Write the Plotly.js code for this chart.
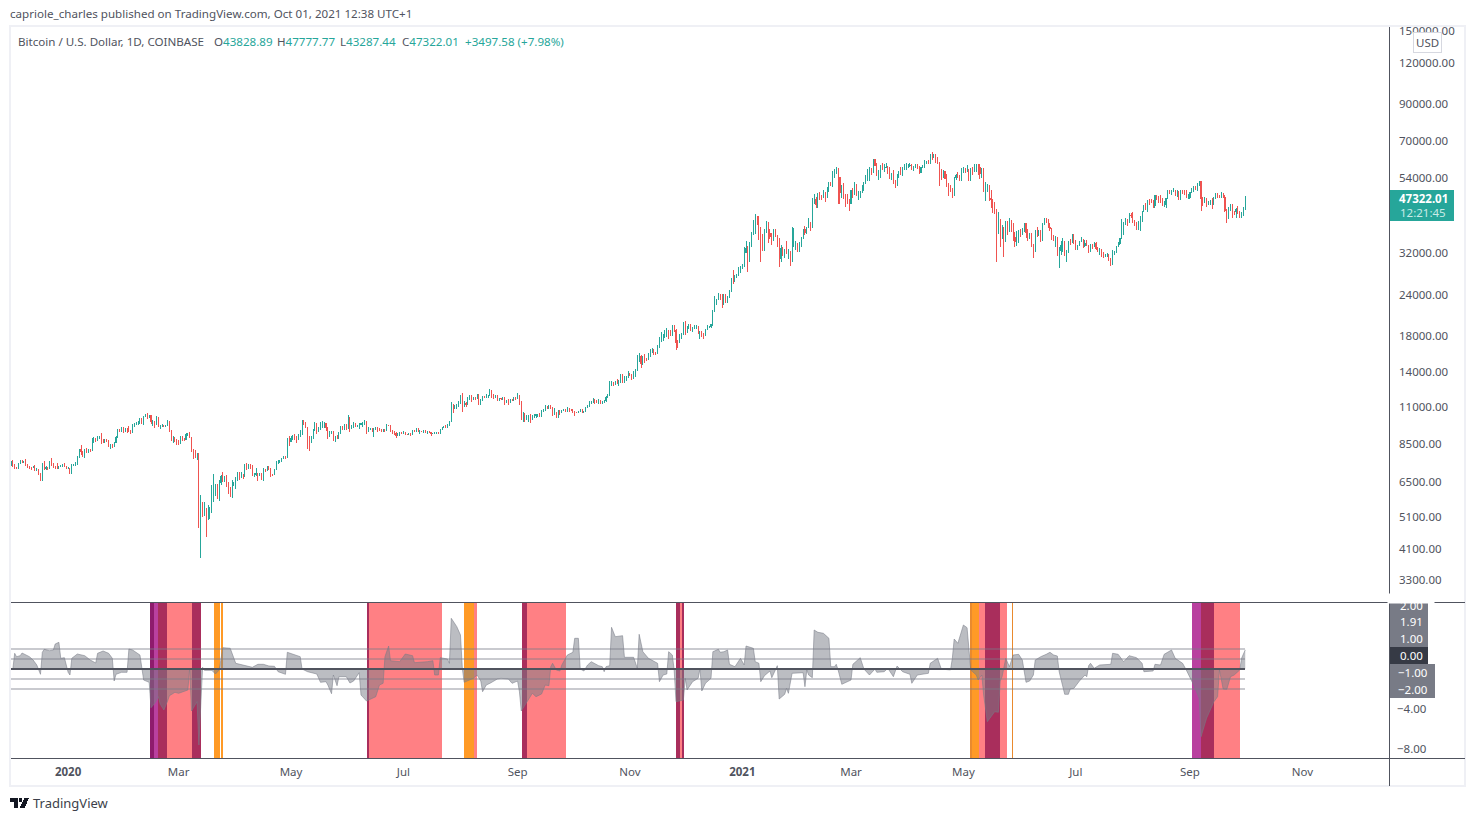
<!DOCTYPE html>
<html>
<head>
<meta charset="utf-8">
<script src="https://cdn.plot.ly/plotly-3.0.1.min.js"></script>
<style>
html,body{margin:0;padding:0;background:#fff}
.boxlayer path,.shapelayer path{shape-rendering:crispEdges}
</style>
</head>
<body>
<div id="plot" style="width:1475px;height:821px"></div>
<script>
// daily candles, one line per calendar month, Dec 2019 .. Oct 1 2021
const opens = [
7400,7540,7300,7200,7190,7400,7530,7500,7520,7340,7220,7200,7190,7250,7080,7120,6880,6610,7280,7150,7190,7140,7510,7320,7250,7200,7190,7250,7300,7380,7240,
7170,7175,6950,7340,7350,7350,7760,8150,8040,7815,8190,8020,8180,8110,8810,8810,8720,8900,8900,8700,8630,8720,8680,8380,8430,8340,8600,8890,9390,9290,9510,
9350,9390,9330,9290,9180,9620,9750,9800,9900,10160,9860,10270,10360,10240,10360,9900,9930,9710,10170,9600,9610,9690,9620,9670,9960,9310,8780,8810,8720,
8530,8520,8910,8760,8760,9070,9160,8900,8040,7930,7890,7940,4970,5570,5170,5360,5030,5320,5400,6190,6190,6190,5830,6490,6770,6700,6740,6370,6250,5900,6390,
6420,6650,6800,6740,6870,6780,7340,7200,7370,7300,6860,6880,6900,6850,6860,6640,7120,7040,7260,7120,6880,6880,7130,7490,7510,7540,7690,7790,7750,8780,
8630,8830,8980,8900,8880,9030,9150,9990,9810,9540,8730,8570,8820,9320,9800,9320,9380,9670,9720,9790,9510,9060,9170,9180,8730,8900,8840,9200,9570,9430,9700,
9450,10200,9530,9670,9790,9620,9670,9750,9780,9780,9900,9280,9470,9480,9340,9430,9530,9450,9410,9290,9360,9300,9690,9630,9290,9250,9160,9010,9120,9190,
9140,9230,9090,9060,9130,9080,9340,9260,9440,9240,9290,9240,9310,9240,9250,9190,9130,9160,9170,9210,9160,9390,9530,9610,9550,9700,9930,11050,10920,11100,11100,
11350,11800,11070,11230,11190,11750,11770,11600,11760,11680,11880,11400,11580,11790,11770,11860,11910,12300,11960,11760,11860,11520,11680,11650,11750,11330,11460,11320,11540,11470,11710,
11650,11930,11400,10180,10470,10170,10260,10370,10130,10230,10340,10390,10440,10320,10680,10790,10950,10940,11080,10920,10420,10530,10240,10730,10690,10730,10780,10690,10840,10780,
10780,10620,10570,10540,10670,10790,10600,10670,10920,11050,11300,11370,11540,11430,11430,11500,11320,11360,11500,11750,11920,12820,12970,12930,13120,13030,13070,13640,13280,13460,13560,
13800,13750,13560,14030,14150,15590,15590,14830,15480,15330,15310,15700,16290,16340,16070,15970,16720,17680,17800,17820,18680,18720,18420,18370,19160,18730,17150,17140,17730,18200,
19700,18800,19230,19450,18650,19150,19150,19170,18330,18550,18260,18050,18800,19170,19280,19440,21350,22800,23130,23860,23480,22730,23820,23250,23720,24670,26480,26280,27040,27370,28880,
29000,29410,32190,33000,31990,33970,36950,39440,40620,40200,38180,35430,33820,37350,39150,36770,36020,35800,36630,35880,35470,30830,33010,32090,32280,32270,32470,30400,33410,34280,34290,
33110,33520,35510,37670,36960,38290,39260,38840,46400,46470,44850,48000,47420,47300,48620,48020,49140,52120,51580,55930,55950,57490,54090,48890,49710,47050,46300,46180,
45240,49630,48370,50550,48370,48760,48880,50970,52380,54880,55860,57800,57230,61190,59000,55630,56900,58920,57640,58080,58100,57350,54100,54340,52300,51300,55050,55860,55780,57620,58760,
58800,58800,58950,57060,58200,59130,58020,56000,58100,58100,59770,59980,59860,63580,62980,63200,61400,60060,56210,55730,56480,53790,51700,51190,50090,49070,54020,55030,54880,53570,
57700,57800,56580,57160,53200,57480,56400,57340,58800,58250,55860,56700,49500,49680,49900,46750,46430,43560,42900,36700,40500,37300,37480,34700,38790,38300,39290,38530,35680,34600,35660,
37300,36690,37580,39240,36850,35520,35800,33580,33380,37390,36690,37340,35550,39020,40530,40150,38350,38090,35820,35480,35600,31680,32500,33680,34660,31590,32280,34700,34500,35900,
35040,33540,33820,34650,35290,33700,34230,33870,32870,33820,33510,34260,33100,32730,32820,31880,31400,31530,31780,30830,29790,32140,32290,33600,34290,35400,37280,39470,40020,40010,41490,
41460,39880,39150,38200,39720,40880,42830,44610,43820,46280,45600,45550,44430,47830,47110,47040,45980,44690,44800,46760,49340,48870,49280,49550,47700,48990,46850,49070,48900,48810,46980,
47160,48840,49280,49970,49920,51790,52660,46860,46090,46390,44850,45150,46060,44960,47110,48120,47770,47300,48300,47250,42970,40700,43570,44890,42840,42700,43210,42170,41030,41520,
43828.89
];
const highs = [
7550,7600,7410,7260,7420,7580,7600,7560,7630,7400,7300,7250,7300,7320,7180,7160,6940,7440,7520,7270,7230,7530,7690,7430,7280,7420,7270,7320,7400,7430,7310,
7250,7190,7400,7400,7490,7800,8200,8450,8100,8200,8280,8190,8200,8880,8900,8880,8980,9000,9190,8770,8780,8800,8710,8500,8480,8620,8990,9400,9420,9550,9540,
9470,9460,9600,9350,9760,9860,9880,9950,10170,10190,10310,10480,10500,10390,10380,10050,9990,10300,10250,9700,9770,9700,9700,10030,9970,9370,8980,8900,8800,
8750,8960,9000,8840,9170,9180,9200,8910,8190,8170,7990,7970,5960,5670,5660,5440,5570,5480,6390,6880,6450,6450,6600,6860,6980,6800,6860,6520,6290,6620,6520,
6740,7000,7000,6980,6900,7370,7420,7390,7390,7330,6950,7170,6900,6940,6920,7200,7150,7300,7280,7200,6900,7150,7520,7590,7580,7700,7800,7800,8870,8950,
9000,9010,9130,8950,9100,9380,10000,10040,9910,9570,9000,8980,9400,9930,9840,9590,9880,9950,9900,9800,9580,9270,9300,9300,8960,9020,9220,9600,9600,9740,9700,
10400,10230,9690,9880,9860,9720,9800,9800,9880,10000,9980,9550,9500,9500,9500,9590,9560,9480,9380,9400,9420,9770,9690,9670,9340,9300,9220,9190,9230,9200,
9290,9260,9120,9190,9150,9360,9360,9470,9450,9340,9310,9340,9350,9280,9270,9200,9180,9220,9240,9220,9410,9560,9650,9680,9720,9990,11400,11200,11150,11180,11450,
11900,12080,11470,11410,11790,11900,11920,11810,11810,12060,12000,11650,11800,11880,11990,11930,12480,12400,12020,11900,11900,11720,11700,11780,11750,11540,11590,11590,11570,11720,11730,
12070,11950,11450,10620,10570,10360,10400,10440,10360,10480,10400,10480,10570,10770,10810,11100,11040,11170,11100,10950,10930,10580,10790,10780,10790,10790,10800,10950,10860,10860,
10690,10670,10600,10700,10800,10780,10700,11000,11100,11490,11420,11730,11550,11550,11620,11540,11440,11550,11820,12000,13200,13170,13040,13170,13330,13250,13780,13860,13620,13620,14100,
13880,13830,14080,14260,15750,15980,15800,15650,15830,15480,15980,16480,16570,16490,16150,16880,17860,18480,18190,18800,18970,18780,18770,19400,19480,18900,17450,18200,18350,19880,
19920,19310,19580,19500,19180,19430,19420,19300,18630,18560,18290,18950,19410,19350,19570,21560,23800,23280,24300,24100,24100,24050,24100,23800,24790,26870,28400,27500,27770,29000,29300,
29600,33300,34780,33600,34500,37000,40300,41950,41300,41300,38200,36600,37800,40100,39700,37900,36800,37800,37800,36400,35600,33800,33450,33050,34800,32950,32500,38500,38000,34800,34300,
34700,35900,37900,38700,38500,40900,39800,46800,48200,47300,48600,48800,48000,49700,49000,50600,52600,52500,56500,57500,58400,57500,54200,51400,52000,48200,48400,46700,
49800,50200,52600,51800,49400,49200,51400,52400,54900,57400,58100,58000,61700,61200,60000,56900,59000,60000,59400,59800,58600,58400,55800,57200,53200,55400,56500,58300,58400,59500,59800,
59500,60100,59600,58500,59500,59500,58700,58400,58900,61300,60800,61300,63800,64850,63800,63600,62500,60400,57600,57000,56800,55500,52200,51200,50500,54400,55500,56400,55200,58000,
58400,58000,58900,57200,58000,58400,59500,59500,59300,59500,57900,58000,52400,51800,51500,49800,46600,45800,43600,42500,38900,38800,38500,40000,39900,40800,40400,39500,37100,37300,37700,
37900,38200,39500,39300,37900,36800,36800,34000,37500,38400,37700,37400,39400,41000,40900,40500,39500,38200,36400,36000,35700,33300,34900,35500,34800,32700,34700,35300,36600,36500,
35000,33900,34900,35900,35300,35000,35000,33900,34100,34000,34600,34600,33300,33100,32900,32200,31900,32000,31700,31000,32800,32600,33700,34500,35400,40500,39500,40900,40600,42300,42400,
42600,40400,39800,39900,41300,43000,44700,45300,46400,46700,46700,46200,47900,48100,47700,47900,47100,46000,47000,49400,49700,49500,50500,49600,49800,49400,49600,49700,49600,49600,48200,
49000,50400,51000,51000,52000,52900,52900,47300,47400,47100,45900,46400,46900,47300,48500,48500,48100,48800,48400,47900,43600,44000,45000,45100,43000,43900,44350,42800,42500,44100,
47777.77
];
const lows = [
7300,7250,7150,7150,7150,7370,7460,7420,7300,7200,7160,7110,7170,7040,7020,6860,6570,6560,7070,7100,7110,7120,7270,7170,7120,7140,7130,7240,7250,7220,7150,
7150,6880,6880,7270,7310,7340,7720,7880,7750,7680,7950,8010,8060,8100,8550,8600,8660,8790,8500,8550,8550,8600,8320,8230,8240,8310,8570,8850,9220,9200,9190,
9250,9160,9230,9120,9170,9530,9710,9670,9730,9730,9700,10240,10090,10140,9770,9630,9460,9670,9550,9420,9560,9580,9580,9620,9240,8650,8530,8600,8450,
8420,8490,8650,8660,8750,8990,8850,8020,7640,7730,7590,4730,3850,5100,5150,4450,5000,5050,5250,5670,5900,5780,5700,6370,6500,6520,6310,6000,5860,5850,6330,
6200,6560,6620,6730,6670,6780,7080,7160,7150,6800,6750,6800,6560,6810,6620,6560,7000,7030,7100,6770,6780,6850,7100,7390,7460,7500,7690,7650,7730,8400,
8620,8760,8720,8530,8760,8930,9050,9700,9520,8200,8100,8630,8800,9300,9130,9230,9340,9470,9470,9300,8820,8930,9100,8680,8620,8820,8820,9120,9340,9370,9380,
9420,9250,9430,9470,9580,9530,9400,9670,9580,9700,9080,9240,9390,9230,8900,9370,9240,9280,9220,9200,9260,9280,9600,9200,9100,9040,8830,8950,9000,9090,
9100,9050,9020,9050,8950,9080,9200,9240,9200,9120,9200,9150,9180,9120,9180,9000,9120,9120,9130,9130,9150,9360,9480,9500,9530,9650,9900,10550,10850,10850,11000,
11220,10600,11000,11000,11100,11550,11350,11520,11540,11630,11150,11150,11460,11680,11680,11690,11840,11700,11580,11680,11500,11500,11540,11520,11150,11260,11120,11300,11430,11450,11550,
11650,11150,10000,9900,9880,10000,9880,9840,10050,10200,10190,10250,10220,10280,10640,10660,10800,10800,10820,10350,10370,10200,10140,10390,10570,10650,10620,10640,10640,10650,
10570,10350,10520,10500,10660,10520,10560,10650,10900,11050,11230,11400,11240,11280,11240,11200,11240,11330,11400,11680,11900,12730,12730,12800,12900,12750,13000,12950,13000,13150,13420,
13610,13210,13300,13530,14070,15000,14400,14750,14880,15100,15290,15550,15970,15720,15800,15840,16550,17220,17350,17760,17920,17620,18000,18050,18520,16320,16500,17520,17620,18200,
18120,18330,18880,18600,18500,18900,18910,18200,17650,17900,17580,18020,18700,19000,19050,19280,21230,22350,23070,23050,21900,22350,22630,22700,23420,24500,25800,26500,27100,27320,27850,
28750,29000,32000,28000,30000,33500,36300,36500,38800,35000,30200,32500,32400,36700,34400,35400,33800,34800,35800,33400,29000,30100,31400,30900,31900,30800,29300,30000,33400,32800,32300,
32300,33450,35400,36300,36600,38200,37300,38000,45000,43700,43700,46200,46300,47000,45600,47000,48800,50900,50700,54000,55500,45000,44900,47000,46600,44100,45000,43000,
45100,47100,48100,47500,46300,47100,48500,49300,51900,53000,53000,55200,56000,59000,54600,53300,54000,57000,56300,57900,55400,53700,53100,51600,50400,51000,53900,55000,54900,57200,57000,
57800,58400,57000,56500,57700,57400,55500,55700,57900,59500,59300,59300,59800,61300,62100,60100,59500,50900,53400,54000,53500,50800,47500,48800,47000,47500,53400,53900,53000,53000,
56000,56000,56800,53000,52900,55200,56900,56200,55000,53500,53800,49000,46000,48900,46000,43900,42200,42100,30000,36500,33500,35300,31200,34800,36400,37200,37200,34800,33400,33600,34300,
35700,36400,37200,35600,34800,35300,33300,31000,32300,35800,36100,34600,34800,38800,39500,38000,37400,35100,34800,33400,31300,28900,31700,32300,31300,30200,32000,33900,34300,34100,
32700,32700,33600,34700,33200,33500,33700,32100,32200,33000,33300,32700,32200,31600,31100,31000,31200,31100,30400,29300,29500,31700,32000,33400,33900,35200,36400,38800,38700,39500,41000,
39400,38700,37600,37500,37400,39800,42500,43100,42700,44700,45300,43800,43800,46200,45500,45500,44400,44200,43900,46600,48300,48100,49000,47600,47200,46400,46400,48400,47800,46900,46700,
46500,48500,49500,49500,49400,51000,43000,44500,45500,44200,44800,44800,43400,44700,46700,47000,46800,47000,46800,42500,39600,40500,43000,40800,41800,40800,42100,40800,40800,41500,
43287.44
];
const closes = [
7540,7300,7200,7190,7400,7530,7500,7520,7340,7220,7200,7190,7250,7080,7120,6880,6610,7280,7150,7190,7140,7510,7320,7250,7200,7190,7250,7300,7380,7240,7170,
7175,6950,7340,7350,7350,7760,8150,8040,7815,8190,8020,8180,8110,8810,8810,8720,8900,8900,8700,8630,8720,8680,8380,8430,8340,8600,8890,9390,9290,9510,9350,
9390,9330,9290,9180,9620,9750,9800,9900,10160,9860,10270,10360,10240,10360,9900,9930,9710,10170,9600,9610,9690,9620,9670,9960,9310,8780,8810,8720,8530,
8520,8910,8760,8760,9070,9160,8900,8040,7930,7890,7940,4970,5570,5170,5360,5030,5320,5400,6190,6190,6190,5830,6490,6770,6700,6740,6370,6250,5900,6390,6420,
6650,6800,6740,6870,6780,7340,7200,7370,7300,6860,6880,6900,6850,6860,6640,7120,7040,7260,7120,6880,6880,7130,7490,7510,7540,7690,7790,7750,8780,8630,
8830,8980,8900,8880,9030,9150,9990,9810,9540,8730,8570,8820,9320,9800,9320,9380,9670,9720,9790,9510,9060,9170,9180,8730,8900,8840,9200,9570,9430,9700,9450,
10200,9530,9670,9790,9620,9670,9750,9780,9780,9900,9280,9470,9480,9340,9430,9530,9450,9410,9290,9360,9300,9690,9630,9290,9250,9160,9010,9120,9190,9140,
9230,9090,9060,9130,9080,9340,9260,9440,9240,9290,9240,9310,9240,9250,9190,9130,9160,9170,9210,9160,9390,9530,9610,9550,9700,9930,11050,10920,11100,11100,11350,
11800,11070,11230,11190,11750,11770,11600,11760,11680,11880,11400,11580,11790,11770,11860,11910,12300,11960,11760,11860,11520,11680,11650,11750,11330,11460,11320,11540,11470,11710,11650,
11930,11400,10180,10470,10170,10260,10370,10130,10230,10340,10390,10440,10320,10680,10790,10950,10940,11080,10920,10420,10530,10240,10730,10690,10730,10780,10690,10840,10780,10780,
10620,10570,10540,10670,10790,10600,10670,10920,11050,11300,11370,11540,11430,11430,11500,11320,11360,11500,11750,11920,12820,12970,12930,13120,13030,13070,13640,13280,13460,13560,13800,
13750,13560,14030,14150,15590,15590,14830,15480,15330,15310,15700,16290,16340,16070,15970,16720,17680,17800,17820,18680,18720,18420,18370,19160,18730,17150,17140,17730,18200,19700,
18800,19230,19450,18650,19150,19150,19170,18330,18550,18260,18050,18800,19170,19280,19440,21350,22800,23130,23860,23480,22730,23820,23250,23720,24670,26480,26280,27040,27370,28880,29000,
29410,32190,33000,31990,33970,36950,39440,40620,40200,38180,35430,33820,37350,39150,36770,36020,35800,36630,35880,35470,30830,33010,32090,32280,32270,32470,30400,33410,34280,34290,33110,
33520,35510,37670,36960,38290,39260,38840,46400,46470,44850,48000,47420,47300,48620,48020,49140,52120,51580,55930,55950,57490,54090,48890,49710,47050,46300,46180,45240,
49630,48370,50550,48370,48760,48880,50970,52380,54880,55860,57800,57230,61190,59000,55630,56900,58920,57640,58080,58100,57350,54100,54340,52300,51300,55050,55860,55780,57620,58760,58800,
58800,58950,57060,58200,59130,58020,56000,58100,58100,59770,59980,59860,63580,62980,63200,61400,60060,56210,55730,56480,53790,51700,51190,50090,49070,54020,55030,54880,53570,57700,
57800,56580,57160,53200,57480,56400,57340,58800,58250,55860,56700,49500,49680,49900,46750,46430,43560,42900,36700,40500,37300,37480,34700,38790,38300,39290,38530,35680,34600,35660,37300,
36690,37580,39240,36850,35520,35800,33580,33380,37390,36690,37340,35550,39020,40530,40150,38350,38090,35820,35480,35600,31680,32500,33680,34660,31590,32280,34700,34500,35900,35040,
33540,33820,34650,35290,33700,34230,33870,32870,33820,33510,34260,33100,32730,32820,31880,31400,31530,31780,30830,29790,32140,32290,33600,34290,35400,37280,39470,40020,40010,41490,41460,
39880,39150,38200,39720,40880,42830,44610,43820,46280,45600,45550,44430,47830,47110,47040,45980,44690,44800,46760,49340,48870,49280,49550,47700,48990,46850,49070,48900,48810,46980,47160,
48840,49280,49970,49920,51790,52660,46860,46090,46390,44850,45150,46060,44960,47110,48120,47770,47300,48300,47250,42970,40700,43570,44890,42840,42700,43210,42170,41030,41520,43830,
47322.01
];

// lower pane: day number counted from 2019-12-01, value read at that day
const oscDay = [1,2,3,5,6,8,10,12,14,16,17,18,21,23,24,26,27,29,31,32,33,36,40,43,46,47,50,53,55,56,57,60,63,64,66,70,71,72,75,76,78,80,81,83,85,86,89,91,96,97,98,100,101,102,103,104,105,109,111,113,115,119,122,127,131,134,137,140,143,145,149,150,153,157,158,161,166,168,171,172,174,175,177,178,182,184,186,189,190,193,198,200,202,203,205,206,211,214,218,219,226,229,230,232,233,237,238,239,242,244,245,246,251,253,255,256,258,260,264,266,270,272,275,276,277,280,283,285,288,290,292,293,294,296,298,299,302,305,306,308,309,311,313,315,319,321,322,323,325,326,328,332,333,338,340,341,343,346,351,352,354,356,357,359,360,361,365,366,367,370,373,374,375,377,380,381,384,385,387,389,390,393,396,398,399,403,404,406,407,409,412,413,416,417,420,421,422,424,430,431,432,433,435,436,438,441,444,445,447,448,449,451,456,457,461,463,466,469,470,474,476,479,481,484,488,489,492,498,499,503,505,510,511,512,514,517,519,521,524,525,527,528,530,534,536,537,538,540,542,544,547,549,550,551,553,555,556,559,562,564,566,568,569,571,572,574,575,577,580,583,584,585,586,588,591,597,598,601,604,607,611,614,615,620,621,624,626,630,632,636,638,642,645,646,649,653,655,656,658,660,662,664,667,668,670];
const oscValue = [0,1.57,1.23,1.33,1.6,1.4,1.23,0.9,0.4,-0.53,1.67,1.97,1.83,1.9,2.5,2.67,1.07,1.13,-0.33,-0.6,1.07,1.5,1.33,0.9,0.6,1.57,1.8,1.57,1.07,-1.2,-0.53,-0.33,-0.33,2,1.9,1.4,-0.1,-1.1,-1.33,-3.87,-3.43,-2.77,-3.53,-4.1,-3.2,-2.67,-2.33,-2.43,-2.1,0.07,-4.2,-3.6,-3.27,-7.6,-3.1,0.17,-0.13,-0.13,-0.5,-0.1,2.13,2.07,0.57,0.33,0.17,0.47,0.47,0.3,0.27,-0.27,-0.53,1.67,1.47,1.23,0,-0.27,-0.5,-1.33,-1.27,-1.6,-2.47,-0.6,-1.67,-0.77,-0.77,-1.4,-1.2,-0.37,-2.6,-3.2,-2.77,-1.6,-1.43,1.23,2.3,0.83,0.73,1.5,1.33,0.63,0.73,0.83,-0.6,-0.6,1.13,1,0.57,5.07,4.23,3.4,0.07,-1.33,-0.93,-0.6,-1.2,-2.27,-1.6,-1.43,-1,-0.93,-1,-1.43,-1.2,-2.27,-4.2,-3.27,-2.43,-2.77,-2.5,-1.6,-1.67,0.23,0.57,-0.1,-0.2,0.4,1.4,1.67,3.07,3.07,0,-0.2,0.4,0.73,0.33,0.23,-0.27,0.23,0.33,4.17,3.23,3.33,1.17,1.17,0.07,3.47,1.73,1.07,0.57,-1.27,-0.6,-0.5,1.73,1.4,-0.1,-3.27,-3.1,-0.93,-2.1,-1.27,-0.93,0,-2.2,-1.43,-0.93,1.73,1.97,1.67,1.73,1.9,0.47,0.23,1.07,0.4,2.3,2.07,0.73,0.57,-1.27,-0.67,-0.2,-0.87,0.33,-3,-2.53,-1.93,-2.43,-0.43,-0.37,-1.77,-0.1,-0.6,-0.87,3.9,3.67,3.57,3.07,0.23,0.23,0.47,-0.1,-1.53,-1.1,0.47,1.13,0,-0.6,0,-0.33,-0.27,0.07,-0.77,0.3,-0.27,-0.53,-1.43,-0.6,-0.43,0.57,1.07,0,-0.1,1.07,3,2.57,4.4,4.13,-0.1,-0.6,-1.1,-0.6,-2.6,-5.27,-4.27,-4.33,-1.2,-0.77,1.07,0.23,1.4,1.47,0.9,-0.1,-1.33,-1.2,-0.6,0.9,1.23,1.47,1.67,1.4,1.3,-0.27,-1.6,-2.53,-2.53,-2,-1.93,-1.2,-0.6,-0.77,0.33,0.57,0.07,0.4,0.47,1.57,1.47,0.73,1.33,1.13,0.57,-0.27,-0.2,0.47,0.4,1.47,1.9,1.07,0.57,-0.1,-1.6,-2.93,-6.77,-4.93,-3.27,-2.77,-0.1,-2,-2.03,-0.77,-0.6,-0.1,1.07,1.91];

const levels = [2, 1, -1, -2];

// shaded regimes in the lower pane
const bandStart = ['2020-02-14 12:00','2020-02-16 14:00','2020-02-18 22:00','2020-02-23 12:00','2020-03-08 06:00','2020-03-20 06:00','2020-03-24 00:00','2020-06-11 06:00','2020-06-12 12:00','2020-08-03 00:00','2020-08-08 12:00','2020-09-03 12:00','2020-09-06 06:00','2020-11-26 00:00','2020-11-28 06:00','2020-11-29 10:00','2021-05-04 12:00','2021-05-05 12:00','2021-05-09 12:00','2021-05-12 18:00','2021-05-20 18:00','2021-05-27 12:00','2021-09-02 06:00','2021-09-07 06:00','2021-09-14 06:00'];
const bandEnd = ['2020-02-16 14:00','2020-02-18 22:00','2020-02-23 12:00','2020-03-08 06:00','2020-03-13 00:00','2020-03-23 06:00','2020-03-25 00:00','2020-06-12 12:00','2020-07-22 00:00','2020-08-08 12:00','2020-08-10 00:00','2020-09-06 06:00','2020-09-27 12:00','2020-11-28 06:00','2020-11-29 10:00','2020-11-30 12:00','2021-05-05 12:00','2021-05-09 12:00','2021-05-12 18:00','2021-05-20 18:00','2021-05-24 12:00','2021-05-28 00:00','2021-09-07 06:00','2021-09-14 06:00','2021-09-28 06:00'];
const bandKind = ['plum','magenta','crimson','salmon','crimson','orange','orange','crimson','salmon','orange','salmon','crimson','salmon','crimson','salmon','crimson','amber','orange','salmon','crimson','salmon','amber','magenta','crimson','salmon'];

const priceTicks = [150000,120000,90000,70000,54000,32000,24000,18000,14000,11000,8500,6500,5100,4100,3300];
const oscTicks = [-4, -8];
const dateTicks = ['2020-01-01','2020-03-01','2020-05-01','2020-07-01','2020-09-01','2020-11-01','2021-01-01','2021-03-01','2021-05-01','2021-07-01','2021-09-01','2021-11-01'];
const dateLabels = ['<b>2020</b>','Mar','May','Jul','Sep','Nov','<b>2021</b>','Mar','May','Jul','Sep','Nov'];

const dates = [];
for (let i = 0; i < closes.length; i++) {
  dates.push(new Date(Date.UTC(2019, 11, 1 + i)).toISOString().slice(0, 10));
}

const UP = '#26a69a';
const DOWN = '#ef5350';
const TEXT = '#50535e';
const FONT = '"Noto Sans", sans-serif';
const bandColors = { plum: '#8e1b6c', magenta: '#b9409f', crimson: '#a92e5c', salmon: '#ff8084', orange: '#ff9a26', amber: '#e98a2e' };

// layout helpers: screen pixels to paper fractions
const PL = 11, PR = 1389, PT = 27, PB = 758;
const fx = (x) => (x - PL) / (PR - PL);
const fy = (y) => (PB - y) / (PB - PT);

function label(text, x, y, opts) {
  return Object.assign({
    text, xref: 'paper', yref: 'paper', x: fx(x), y: fy(y),
    xanchor: 'left', yanchor: 'middle', showarrow: false,
    font: { family: FONT, size: 11.6, color: TEXT },
  }, opts || {});
}

function box(x0, y0, x1, y1, color) {
  return { type: 'rect', xref: 'paper', yref: 'paper', x0: fx(x0), x1: fx(x1), y0: fy(y0), y1: fy(y1), fillcolor: color, line: { width: 0 }, layer: 'above' };
}

function rule(x0, y0, x1, y1, color, width) {
  return { type: 'line', xref: 'paper', yref: 'paper', x0: fx(x0), x1: fx(x1), y0: fy(y0), y1: fy(y1), line: { color, width }, layer: 'above' };
}

const candles = {
  type: 'candlestick',
  x: dates, open: opens, high: highs, low: lows, close: closes,
  xaxis: 'x', yaxis: 'y',
  increasing: { line: { color: UP, width: 1 }, fillcolor: UP },
  decreasing: { line: { color: DOWN, width: 1 }, fillcolor: DOWN },
  whiskerwidth: 0,
  hoverinfo: 'skip',
};

const osc = {
  type: 'scatter', mode: 'lines',
  x: oscDay.map((d) => dates[d]), y: oscValue,
  xaxis: 'x', yaxis: 'y2',
  fill: 'tozeroy', fillcolor: 'rgba(120,123,134,0.5)',
  line: { color: 'rgba(120,123,134,0.55)', width: 1 },
  hoverinfo: 'skip',
};

const shapes = [];
bandKind.forEach((kind, i) => {
  shapes.push({ type: 'rect', xref: 'x', yref: 'y2 domain', x0: bandStart[i], x1: bandEnd[i], y0: 0, y1: 1, fillcolor: bandColors[kind], line: { width: 0 }, layer: 'below' });
});
levels.forEach((v) => {
  shapes.push({ type: 'line', xref: 'x', yref: 'y2', x0: dates[0], x1: dates[dates.length - 1], y0: v, y1: v, line: { color: 'rgba(120,123,134,0.4)', width: 1.5 }, layer: 'above' });
});
shapes.push({ type: 'line', xref: 'x', yref: 'y2', x0: dates[0], x1: dates[dates.length - 1], y0: 0, y1: 0, line: { color: TEXT, width: 2 }, layer: 'above' });

shapes.push({ type: 'rect', xref: 'paper', yref: 'paper', x0: fx(10), x1: fx(1465), y0: fy(786), y1: fy(26), line: { color: '#eff0f5', width: 2 }, layer: 'above' });
shapes.push(rule(PR, 27, PR, 786, TEXT, 1));
shapes.push(rule(11, 602, 1465, 602, TEXT, 1));
shapes.push(rule(11, 758, 1465, 758, TEXT, 1));
// last price and indicator value badges
shapes.push(box(1390, 190, 1454, 221, UP));
shapes.push(box(1390, 603, 1428, 647, '#787b86'));
shapes.push(box(1390, 647, 1428, 664, '#363a45'));
shapes.push(box(1390, 664, 1435, 698, '#787b86'));
// TradingView mark
shapes.push(box(10, 798, 18, 802, '#131722'));
shapes.push(box(14, 802, 18, 808, '#131722'));
shapes.push({ type: 'circle', xref: 'paper', yref: 'paper', x0: fx(18.6), x1: fx(22), y0: fy(802), y1: fy(798), fillcolor: '#131722', line: { width: 0 }, layer: 'above' });
shapes.push({ type: 'path', xref: 'paper', yref: 'paper', path: `M ${fx(24.5)} ${fy(798)} L ${fx(29)} ${fy(798)} L ${fx(24.5)} ${fy(808)} L ${fx(19.8)} ${fy(808)} Z`, fillcolor: '#131722', line: { width: 0 }, layer: 'above' });

const white = { family: FONT, size: 11.5, color: '#ffffff' };
const annotations = [
  label('capriole_charles published on TradingView.com, Oct 01, 2021 12:38 UTC+1', 8, 14),
  label('Bitcoin / U.S. Dollar, 1D, COINBASE', 16, 41.5),
  label(`O<span style="color:${UP}">43828.89</span>`, 212, 41.5),
  label(`H<span style="color:${UP}">47777.77</span>`, 275, 41.5),
  label(`L<span style="color:${UP}">43287.44</span>`, 338, 41.5),
  label(`C<span style="color:${UP}">47322.01</span>`, 400, 41.5),
  label('+3497.58 (+7.98%)', 463, 41.5, { font: { family: FONT, size: 11.6, color: UP } }),
  label('USD', 1427, 42.5, { xanchor: 'center', bgcolor: '#ffffff', bordercolor: '#d6d8e0', borderwidth: 1, borderpad: 2, font: { family: FONT, size: 11.5, color: TEXT } }),
  label('<b>47322.01</b>', 1423, 198.5, { xanchor: 'center', font: white }),
  label('12:21:45', 1423, 212.5, { xanchor: 'center', font: { family: FONT, size: 11.5, color: '#c9ebe7' } }),
  label('2.00', 1411, 605, { xanchor: 'center', font: white }),
  label(' ', 1411, 598, { xanchor: 'center', bgcolor: '#ffffff', width: 44, height: 7, font: { size: 4 } }),
  label('1.91', 1411, 621.5, { xanchor: 'center', font: white }),
  label('1.00', 1411, 638.5, { xanchor: 'center', font: white }),
  label('0.00', 1411, 655.5, { xanchor: 'center', font: white }),
  label('\u22121.00', 1413, 672.5, { xanchor: 'center', font: white }),
  label('\u22122.00', 1413, 689.5, { xanchor: 'center', font: white }),
  label('TradingView', 31, 803, { font: { family: FONT, size: 13, color: '#3c3f4a' } }),
];

const layout = {
  width: 1475, height: 821,
  margin: { l: PL, r: 1475 - PR, t: PT, b: 821 - PB, pad: 0 },
  paper_bgcolor: '#ffffff', plot_bgcolor: '#ffffff',
  showlegend: false,
  boxgap: 0.95,
  font: { family: FONT, size: 11.5, color: TEXT },
  xaxis: {
    type: 'date', range: ['2019-12-01', '2021-12-18 01:00'], anchor: 'y2',
    rangeslider: { visible: false }, showgrid: false, zeroline: false, showline: false,
    tickmode: 'array', tickvals: dateTicks, ticktext: dateLabels, ticks: '', ticklabelstandoff: 5,
    tickfont: { family: FONT, size: 11.5, color: TEXT },
  },
  yaxis: {
    type: 'log', side: 'right', domain: [(PB - 602) / (PB - PT), 1], range: [3.452, 5.188], anchor: 'x',
    showgrid: false, zeroline: false, showline: false, ticks: '', ticklabelstandoff: 9,
    tickmode: 'array', tickvals: priceTicks, ticktext: priceTicks.map((v) => v.toFixed(2)),
    tickfont: { family: FONT, size: 11.5, color: TEXT },
  },
  yaxis2: {
    type: 'linear', side: 'right', domain: [0, (PB - 602) / (PB - PT)], range: [-8.9, 6.7], anchor: 'x',
    showgrid: false, zeroline: false, showline: false, ticks: '', ticklabelstandoff: 7,
    tickmode: 'array', tickvals: oscTicks, ticktext: oscTicks.map((v) => '\u2212' + Math.abs(v).toFixed(2)),
    tickfont: { family: FONT, size: 11.5, color: TEXT },
  },
  shapes, annotations,
};

Plotly.newPlot('plot', [candles, osc], layout, { displayModeBar: false, responsive: false });
</script>
</body>
</html>
